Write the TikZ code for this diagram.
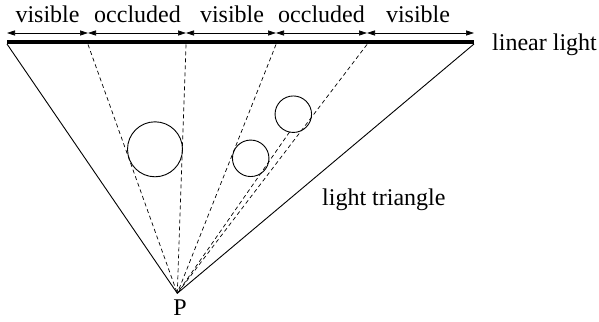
\documentclass[tikz,border=0pt]{standalone}
\usepackage{fontspec}
\setmainfont{Liberation Serif}
\usetikzlibrary{arrows.meta}
\begin{document}
\begin{tikzpicture}[x=1pt,y=-1pt,
  lbl/.style={anchor=base,inner sep=0pt,font=\fontsize{24}{28}\selectfont},
  seg/.style={line width=0.6pt,{Triangle[length=8pt,width=5pt]}-{Triangle[length=8pt,width=5pt]}},
  ray/.style={line width=0.7pt,dash pattern=on 4pt off 3pt},
  edge/.style={line width=0.9pt},
  blocker/.style={circle,draw,line width=0.9pt,inner sep=0pt,outer sep=0pt}]
\useasboundingbox (0,0) rectangle (599,321);
% arrow row
\foreach \i/\x in {0/7,1/88,2/186,3/276,4/367,5/474}{
  \coordinate (a\i) at (\x,33);
  \coordinate (t\i) at (\x,44.5);
}
\coordinate (b0) at (7,42);
\coordinate (b5) at (474,42);
\coordinate (e0) at (7,44);
\coordinate (e5) at (474,44);
\coordinate (P) at (177.3,293.3);
\draw[seg] (a0) -- (a1);
\draw[seg] (a1) -- (a2);
\draw[seg] (a2) -- (a3);
\draw[seg] (a3) -- (a4);
\draw[seg] (a4) -- (a5);
\node[lbl] (l1) at (47.5,23) {visible};
\node[lbl] (l2) at (137.5,23) {occluded};
\node[lbl] (l3) at (232,23) {visible};
\node[lbl] (l4) at (321.5,23) {occluded};
\node[lbl] (l5) at (418,23) {visible};
% bar
\draw[line width=3.6pt] (b0) -- (b5);
\node[lbl,anchor=base west] (ll) at (492,51) {linear light};
% triangle
\draw[edge] (e0) -- (P);
\draw[edge] (e5) -- (P);
\node[lbl,anchor=base west] (lt) at (322,205) {light triangle};
\node[lbl] (pl) at (180,315.5) {P};
% blockers
\node[blocker,minimum size=55pt] (c0) at (155,149.3) {};
\node[blocker,minimum size=36.5pt] (c1) at (250.7,158.3) {};
\node[blocker,minimum size=36.5pt] (c2) at (293.3,114.2) {};
% rays
\draw[ray] (t1) -- (P);
\draw[ray] (t2) -- (P);
\draw[ray] (t3) -- (P);
\draw[ray] (t4) -- (P);
\draw[ray] (c2.258) -- (P);
\end{tikzpicture}
\end{document}
